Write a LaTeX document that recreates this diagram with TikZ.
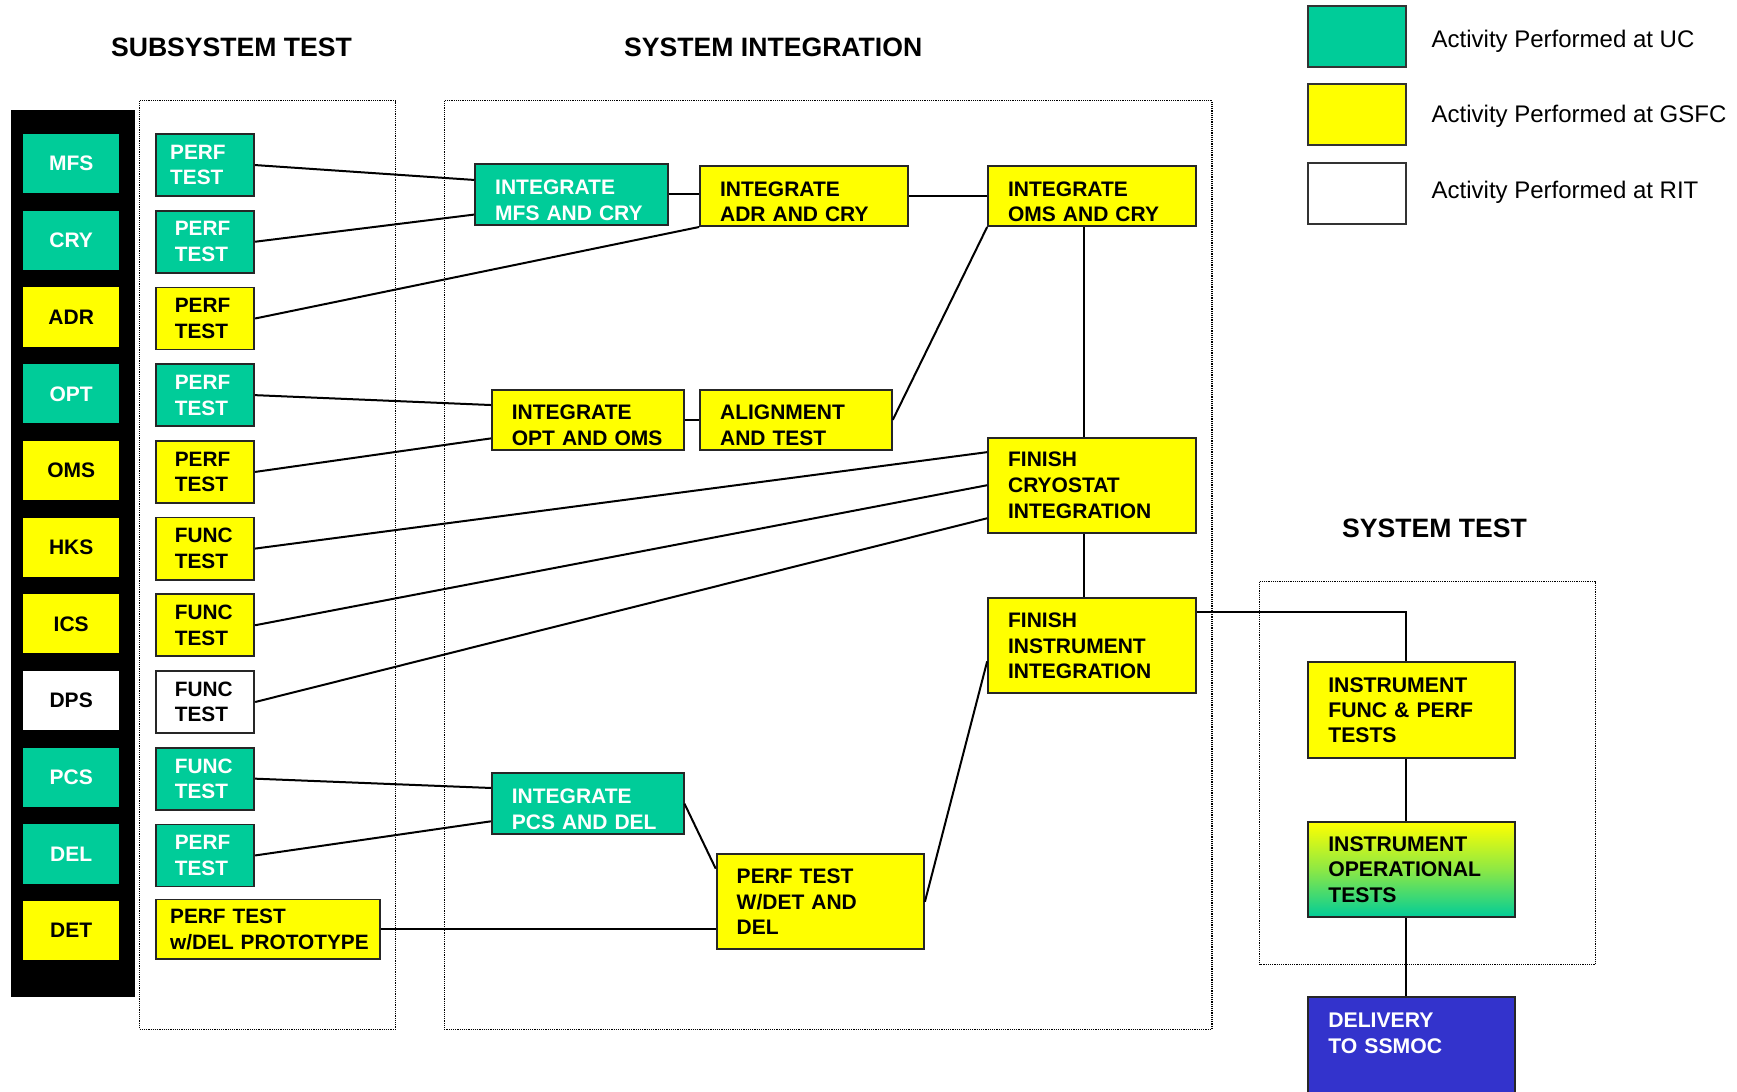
\documentclass[tikz,border=0pt]{standalone}
\usepackage{fontspec}
\setmainfont{Liberation Sans}
\usetikzlibrary{calc}
\definecolor{ucgreen}{RGB}{0,204,153}
\definecolor{gsfcyellow}{RGB}{255,255,0}
\definecolor{ssmocblue}{RGB}{51,51,204}
\hyphenpenalty=10000
\exhyphenpenalty=10000
\newcommand\mkbox[8]{% name, style, x1,y1,x2,y2, pad(pt), text
  \pgfmathsetmacro\mkbw{(#5-#3)*0.5539-2*#7}%
  \pgfmathsetmacro\mkbh{(#6-#4)*0.5539}%
  \node[#2, inner xsep=#7pt, inner ysep=0pt, text width=\mkbw pt, minimum height=\mkbh pt] (#1) at ({(#3+#5)/2},{(#4+#6)/2}) {#8};}
\newcommand\dnstrut{\rule{0pt}{13pt}}
\begin{document}
\begin{tikzpicture}[x=0.5539pt,y=-0.5539pt,
  uc/.style={fill=ucgreen,text=white},
  gs/.style={fill=gsfcyellow,text=black},
  rit/.style={fill=white,text=black},
  leftbox/.style={draw=none,align=center,font=\fontsize{10.5}{12.7}\selectfont\bfseries},
  subbox/.style={draw=black!85,line width=0.9pt,align=left,font=\fontsize{10.4}{12.8}\selectfont\bfseries},
  intbox/.style={draw=black!85,line width=1pt,align=left,font=\fontsize{10.5}{12.8}\selectfont\bfseries},
  sysbox/.style={draw=black!85,line width=1pt,align=left,font=\fontsize{10.6}{12.7}\selectfont\bfseries},
  legbox/.style={draw=black!80,line width=0.9pt,minimum width=88*0.5539pt,minimum height=55*0.5539pt,inner sep=0pt},
  legtext/.style={anchor=west,font=\fontsize{12}{14}\selectfont},
  title/.style={font=\fontsize{13.3}{15}\selectfont\bfseries},
  dotbox/.style={line width=0.6pt,dash pattern=on 0.6pt off 0.5pt},
  conn/.style={line width=1pt,black}]
\useasboundingbox (0,0) rectangle (1568,985);

% titles
\node[title] (t1) at (209,43) {SUBSYSTEM TEST};
\node[title] (t2) at (698,43) {SYSTEM INTEGRATION};
\node[title] (t3) at (1295,477) {SYSTEM TEST};

% legend
\node[legbox,fill=ucgreen] (lg1) at (1225,33) {};
\node[legbox,fill=gsfcyellow] (lg2) at (1225,103.5) {};
\node[legbox,fill=white] (lg3) at (1225,174.5) {};
\node[legtext] (lt1) at (1286,37) {Activity Performed at UC};
\node[legtext] (lt2) at (1286,105) {Activity Performed at GSFC};
\node[legtext] (lt3) at (1286,174) {Activity Performed at RIT};

% dotted regions
\draw[dotbox] (126,91) rectangle (357,929);
\draw[dotbox] (401,91) rectangle (1094,929);
\draw[dotbox] (1137,525) rectangle (1440,871);

% black panel
\fill[black] (10,99) rectangle (122,900);

% left subsystem boxes
\mkbox{MFS}{leftbox,uc}{21}{121}{107.5}{174.5}{2}{MFS}
\mkbox{CRY}{leftbox,uc}{21}{190.2}{107.5}{243.7}{2}{CRY}
\mkbox{ADR}{leftbox,gs}{21}{259.5}{107.5}{313}{2}{ADR}
\mkbox{OPT}{leftbox,uc}{21}{328.7}{107.5}{382.2}{2}{OPT}
\mkbox{OMS}{leftbox,gs}{21}{398}{107.5}{451.5}{2}{OMS}
\mkbox{HKS}{leftbox,gs}{21}{467.2}{107.5}{520.7}{2}{HKS}
\mkbox{ICS}{leftbox,gs}{21}{536.4}{107.5}{589.9}{2}{ICS}
\mkbox{DPS}{leftbox,rit}{21}{605.7}{107.5}{659.2}{2}{DPS}
\mkbox{PCS}{leftbox,uc}{21}{674.9}{107.5}{728.4}{2}{PCS}
\mkbox{DEL}{leftbox,uc}{21}{744.2}{107.5}{797.7}{2}{DEL}
\mkbox{DET}{leftbox,gs}{21}{813.4}{107.5}{866.9}{2}{DET}

% subsystem test boxes
\mkbox{s0}{subbox,uc}{141}{121}{229.5}{177}{7}{PERF\\TEST}
\mkbox{s1}{subbox,uc}{141}{190.2}{229.5}{246.2}{9.3}{PERF\\TEST}
\mkbox{s2}{subbox,gs}{141}{259.5}{229.5}{315.5}{9.3}{PERF\\TEST}
\mkbox{s3}{subbox,uc}{141}{328.7}{229.5}{384.7}{9.3}{PERF\\TEST}
\mkbox{s4}{subbox,gs}{141}{398}{229.5}{454}{9.3}{PERF\\TEST}
\mkbox{s5}{subbox,gs}{141}{467.2}{229.5}{523.2}{9.3}{FUNC\\TEST}
\mkbox{s6}{subbox,gs}{141}{536.4}{229.5}{592.4}{9.3}{FUNC\\TEST}
\mkbox{s7}{subbox,rit}{141}{605.7}{229.5}{661.7}{9.3}{FUNC\\TEST}
\mkbox{s8}{subbox,uc}{141}{674.9}{229.5}{730.9}{9.3}{FUNC\\TEST}
\mkbox{s9}{subbox,uc}{141}{744.2}{229.5}{800.2}{9.3}{PERF\\TEST}
\mkbox{s10}{subbox,gs}{141}{812}{343}{866}{7}{PERF~TEST\\w/DEL~PROTOTYPE}

% system integration boxes
\mkbox{imc}{intbox,uc}{429}{148}{603}{203}{10}{\dnstrut INTEGRATE\\MFS~AND~CRY}
\mkbox{iac}{intbox,gs}{632}{150}{820}{204}{10}{\dnstrut INTEGRATE\\ADR~AND~CRY}
\mkbox{ioc}{intbox,gs}{892}{150}{1080}{204}{10}{\dnstrut INTEGRATE\\OMS~AND~CRY}
\mkbox{ioo}{intbox,gs}{444}{352}{617}{406}{10}{\dnstrut INTEGRATE\\OPT~AND~OMS}
\mkbox{alt}{intbox,gs}{632}{352}{805}{406}{10}{\dnstrut ALIGNMENT\\AND~TEST}
\mkbox{fci}{intbox,gs}{892}{395}{1080}{481}{10}{FINISH\\CRYOSTAT\\INTEGRATION}
\mkbox{fii}{intbox,gs}{892}{540}{1080}{626}{10}{FINISH\\INSTRUMENT\\INTEGRATION}
\mkbox{ipd}{intbox,uc}{444}{698}{617}{753}{10}{\dnstrut INTEGRATE\\PCS~AND~DEL}
\mkbox{pwd}{intbox,gs}{647}{771}{834}{857}{10}{PERF~TEST\\W/DET~AND\\DEL}

% system test boxes
\mkbox{ifp}{sysbox,gs}{1181}{598}{1368}{684}{10}{INSTRUMENT\\FUNC~\&~PERF\\TESTS}
\mkbox{iot}{sysbox,top color=gsfcyellow,bottom color=ucgreen,middle color=gsfcyellow!55!ucgreen}{1181}{742}{1368}{828}{10}{INSTRUMENT\\OPERATIONAL\\TESTS}
\mkbox{dlv}{sysbox,fill=ssmocblue,text=white}{1181}{900}{1368}{988}{10}{DELIVERY\\TO~SSMOC\\\mbox{}}

% connectors
\draw[conn] (s0.east) -- ($(imc.north west)!0.27!(imc.south west)$);
\draw[conn] (s1.east) -- ($(imc.north west)!0.82!(imc.south west)$);
\draw[conn] (imc.east) -- (imc.east -| iac.west);
\draw[conn] (s2.east) -- (iac.south west);
\draw[conn] (iac.east) -- (iac.east -| ioc.west);
\draw[conn] (s3.east) -- ($(ioo.north west)!0.26!(ioo.south west)$);
\draw[conn] (s4.east) -- ($(ioo.north west)!0.80!(ioo.south west)$);
\draw[conn] (ioo.east) -- (ioo.east -| alt.west);
\draw[conn] (alt.east) -- (ioc.south west);
\draw[conn] ($(ioc.south west)!0.46!(ioc.south east)$) -- ($(fci.north west)!0.46!(fci.north east)$);
\draw[conn] (s5.east) -- ($(fci.north west)!0.16!(fci.south west)$);
\draw[conn] (s6.east) -- (fci.west);
\draw[conn] (s7.east) -- ($(fci.north west)!0.84!(fci.south west)$);
\draw[conn] ($(fci.south west)!0.46!(fci.south east)$) -- ($(fii.north west)!0.46!(fii.north east)$);
\draw[conn] (s8.east) -- ($(ipd.north west)!0.25!(ipd.south west)$);
\draw[conn] (s9.east) -- ($(ipd.north west)!0.78!(ipd.south west)$);
\draw[conn] (ipd.east) -- ($(pwd.north west)!0.16!(pwd.south west)$);
\draw[conn] (s10.east) -- (s10.east -| pwd.west);
\draw[conn] (pwd.east) -- ($(fii.north west)!0.66!(fii.south west)$);
\draw[conn] ($(fii.north east)!0.15!(fii.south east)$) -| ($(ifp.north west)!0.47!(ifp.north east)$);
\draw[conn] ($(ifp.south west)!0.47!(ifp.south east)$) -- ($(iot.north west)!0.47!(iot.north east)$);
\draw[conn] ($(iot.south west)!0.47!(iot.south east)$) -- ($(dlv.north west)!0.47!(dlv.north east)$);
\end{tikzpicture}
\end{document}
